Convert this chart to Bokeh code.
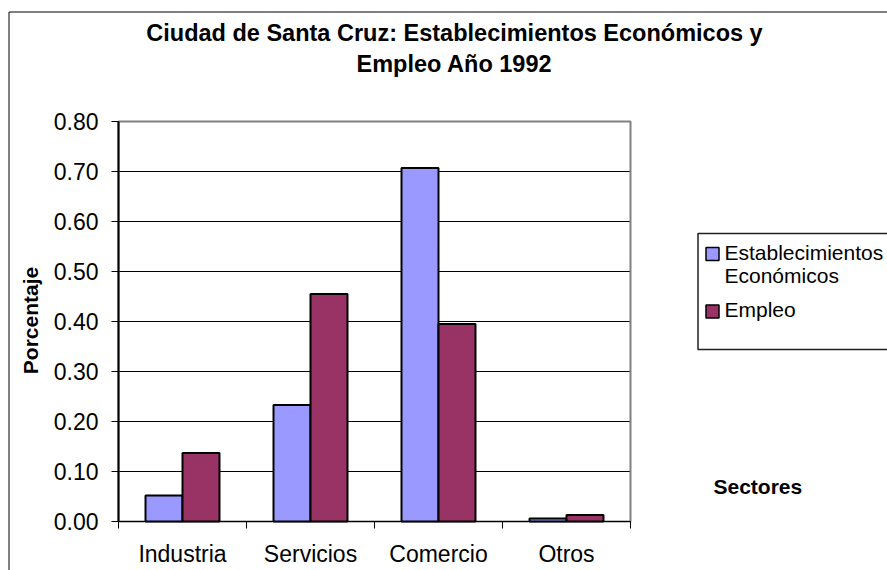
from bokeh.plotting import figure
from bokeh.models import (ColumnDataSource, Range1d, FixedTicker, NumeralTickFormatter, Label)
from bokeh.transform import dodge
from bokeh.embed import file_html
from bokeh.resources import INLINE
import math

# ---- data ----
categories = ["Industria", "Servicios", "Comercio", "Otros"]
establecimientos = [0.052, 0.233, 0.707, 0.006]
empleo = [0.137, 0.455, 0.395, 0.013]
y_ticks = [0.0, 0.1, 0.2, 0.3, 0.4, 0.5, 0.6, 0.7, 0.8]
series_names = ["Establecimientos\nEconómicos", "Empleo"]
title_lines = ["Ciudad de Santa Cruz: Establecimientos Económicos y", "Empleo Año 1992"]
y_title = "Porcentaje"
x_title = "Sectores"

BLUE = "#9999FF"
RED = "#993366"
FONT = "Liberation Sans"

W, H = 887, 570
# plot area (page pixels): left, top, width, height
FL, FT, FW, FH = 118, 121, 512, 400
NCAT = len(categories)
YMAX = y_ticks[-1]

# page pixel -> data coordinates (the frame covers the whole canvas)
def X(px):
    return (px - FL) / FW * NCAT

def Y(py):
    return (FT + FH - py) / FH * YMAX

p = figure(width=W, height=H, output_backend="svg", toolbar_location=None,
           x_range=Range1d(X(0), X(W)), y_range=Range1d(Y(H), Y(0)),
           min_border=0, min_border_left=0, min_border_right=0,
           min_border_top=0, min_border_bottom=0)
p.background_fill_color = "white"
p.border_fill_color = "white"
p.outline_line_color = None
p.xgrid.visible = False
p.ygrid.visible = False

# outer chart border (left and top edges visible; the rest lies past the window)
p.segment(x0=[X(8.5), X(8.5)], y0=[Y(11.5), Y(11.5)], x1=[X(8.5), X(W + 5)],
          y1=[Y(H + 5), Y(11.5)], line_color="black", line_width=1)

# horizontal grid lines
grid_y = y_ticks[1:-1]
p.segment(x0=[0] * len(grid_y), x1=[NCAT] * len(grid_y), y0=grid_y, y1=grid_y,
          line_color="black", line_width=1)

# plot area border (grey top / right)
p.quad(left=[0], right=[NCAT], bottom=[0], top=[YMAX], fill_color=None,
       line_color="#808080", line_width=2)

# bars
centers = [i + 0.5 for i in range(NCAT)]
src = ColumnDataSource(dict(x=centers, est=establecimientos, emp=empleo))
bw = 0.289
p.vbar(x=dodge("x", -bw / 2, range=p.x_range), top="est", width=bw, source=src,
       fill_color=BLUE, line_color="black", line_width=2)
p.vbar(x=dodge("x", bw / 2, range=p.x_range), top="emp", width=bw, source=src,
       fill_color=RED, line_color="black", line_width=2)

# y axis at x = 0
ya = p.yaxis[0]
ya.fixed_location = 0
ya.bounds = (0, YMAX)
ya.ticker = FixedTicker(ticks=y_ticks)
ya.formatter = NumeralTickFormatter(format="0.00")
ya.major_label_text_font = FONT
ya.major_label_text_font_size = "23px"
ya.major_label_text_color = "black"
ya.major_tick_out = 7
ya.major_tick_in = 0
ya.minor_tick_line_color = None
ya.axis_line_color = "black"
ya.axis_line_width = 2
ya.major_tick_line_color = "black"
ya.major_label_standoff = 13

# x axis at y = 0: labels at category centres, ticks at boundaries
xa = p.xaxis[0]
xa.fixed_location = 0
xa.bounds = (0, NCAT)
xa.ticker = FixedTicker(ticks=centers, minor_ticks=list(range(NCAT + 1)))
xa.major_label_overrides = {c: cat for c, cat in zip(centers, categories)}
xa.major_label_text_font = FONT
xa.major_label_text_font_size = "23px"
xa.major_label_text_color = "black"
xa.major_tick_out = 0
xa.major_tick_in = 0
xa.major_tick_line_color = None
xa.minor_tick_out = 7
xa.minor_tick_in = 0
xa.minor_tick_line_color = "black"
xa.axis_line_color = "black"
xa.axis_line_width = 1
xa.major_label_standoff = 12

SHIFT = 0.38  # rendered baseline sits ~0.38 em below the requested one

def label(x, y, text, size, angle=0.0, **kw):
    s = SHIFT * size
    if angle:
        x = x - s
    else:
        y = y - s
    opts = dict(text_font=FONT, text_color="black", text_baseline="alphabetic",
                text_font_size=f"{size}px", angle=angle)
    opts.update(kw)
    return Label(x=X(x), y=Y(y), text=text, **opts)

# title
for line, base in zip(title_lines, [41, 72.5]):
    p.add_layout(label(454, base, line, 23.5, text_align="center", text_font_style="bold"))

# axis titles
p.add_layout(label(38, 320, y_title, 21, angle=math.pi / 2, text_align="center",
                   text_font_style="bold"))
p.add_layout(label(713, 494, x_title, 21, text_font_style="bold"))

# legend (box, keys, texts)
p.quad(left=[X(697.5)], right=[X(W + 5)], top=[Y(233)], bottom=[Y(349)],
       fill_color="white", line_color="#202020", line_width=1.5)
p.quad(left=[X(705.5), X(705.5)], right=[X(718.5), X(718.5)],
       top=[Y(247), Y(304.5)], bottom=[Y(260), Y(317.5)],
       fill_color=[BLUE, RED], line_color="black", line_width=1.5)
name1 = series_names[0].split("\n")
for txt, base in zip(name1 + [series_names[1]], [259.5, 283.3, 316.7]):
    p.add_layout(label(724, base, txt, 21))

open("out.html", "w").write(file_html(p, INLINE))
